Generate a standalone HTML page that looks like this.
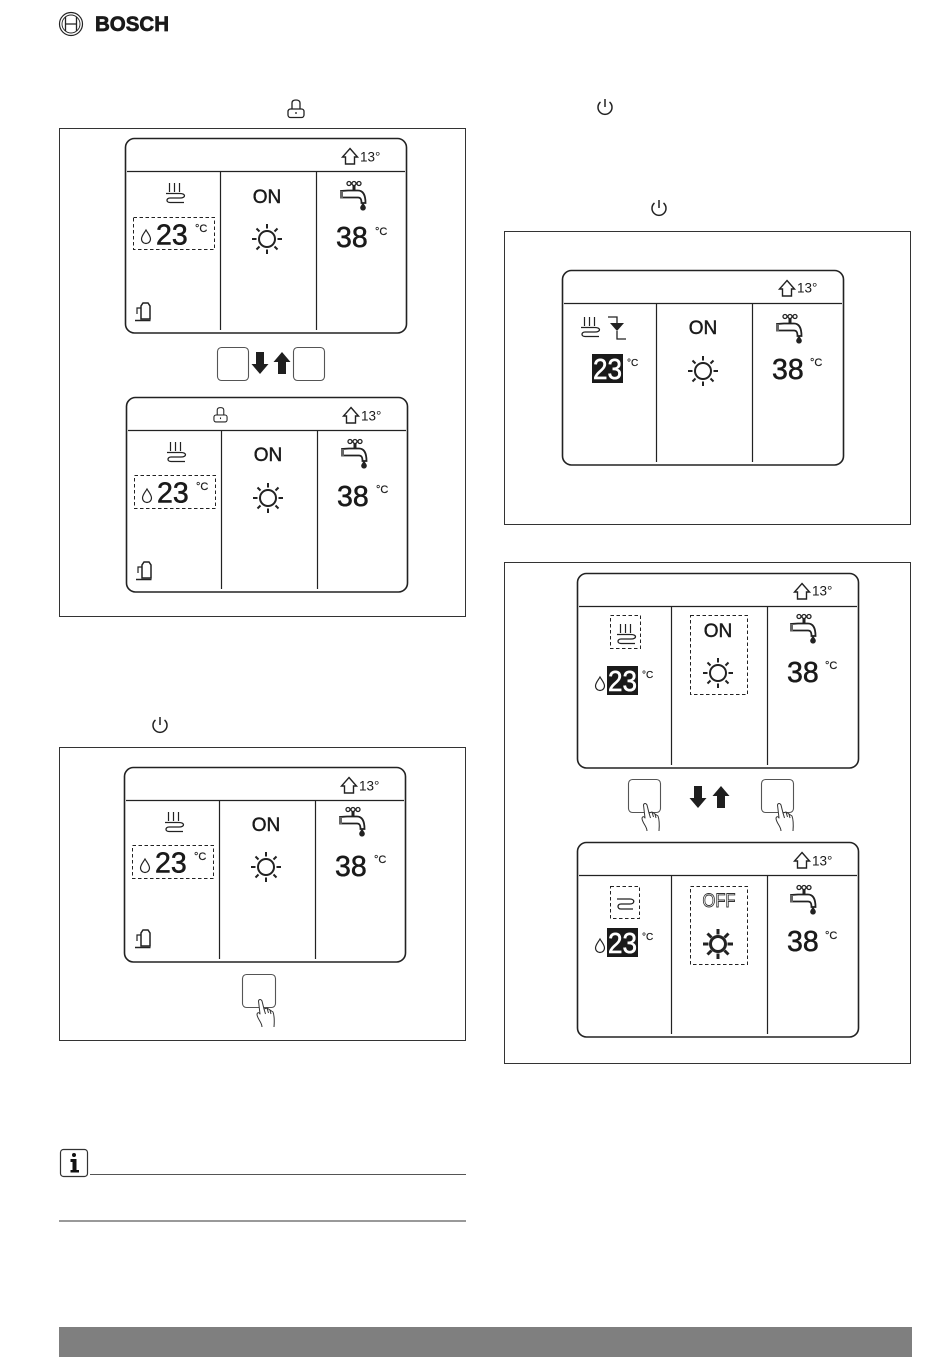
<!DOCTYPE html>
<html><head><meta charset="utf-8"><style>
html,body{margin:0;padding:0;background:#fff}
svg{display:block}
text{font-family:"Liberation Sans",sans-serif;fill:#1a1a1a}
.n{font-size:28.500px;stroke:#1a1a1a;stroke-width:.55}
.c{font-size:11px;stroke:#1a1a1a;stroke-width:.2}
.t{font-size:13.500px}
.on{font-size:19px;stroke:#1a1a1a;stroke-width:.45}
.f{fill:none;stroke:#222;stroke-width:1.6}
.d{fill:none;stroke:#222;stroke-width:1;stroke-dasharray:3.5 2.5}
.i{fill:none;stroke:#222;stroke-width:1.3}
.b{fill:none;stroke:#555;stroke-width:1.1}
</style></head><body>
<svg width="950" height="1367" viewBox="0 0 950 1367" xmlns="http://www.w3.org/2000/svg">
<defs>
<g id="shell">
<rect x="0.500" y="0.500" width="281" height="194.500" rx="9" class="f"/>
<path d="M2 33.500H280" fill="none" stroke="#222" stroke-width="1.200"/>
<path d="M225 10.500L232.500 19H229.500V26H220.500V19H217.500Z" fill="none" stroke="#222" stroke-width="1.400"/>
</g>
<g id="frame"><use href="#shell"/><path d="M95.500 33.500V192M191.500 33.500V192" fill="none" stroke="#222" stroke-width="1.200"/></g>
<g id="frame2"><use href="#shell"/><path d="M94.500 33.500V192M190.500 33.500V192" fill="none" stroke="#222" stroke-width="1.200"/></g>
<g id="heat" class="i">
<path d="M3.500 2V11M8.500 2V11M13.500 2V11" stroke-width="1.200"/>
<path d="M0 12.500H14C20 12.500 20 17 14 17H4C0 17 0 21.500 4 21.500H18"/>
</g>
<g id="wave" class="i"><path d="M0 1H13C18 1 18 6 13 6H4C0 6 0 11 4 11H16"/></g>
<g id="sun" stroke="#222" stroke-width="2" fill="none">
<circle r="8"/>
<path d="M0 -15V-10.500M0 15V10.500M-15 0H-10.500M15 0H10.500M-10.500 -10.500L-7.500 -7.500M10.500 10.500L7.500 7.500M-10.500 10.500L-7.500 7.500M10.500 -10.500L7.500 -7.500"/>
</g>
<g id="sunb" stroke="#222" stroke-width="3" fill="none">
<circle r="7.500"/>
<path d="M0 -15V-9.500M0 15V9.500M-15 0H-9.500M15 0H9.500M-10.500 -10.500L-6.500 -6.500M10.500 10.500L6.500 6.500M-10.500 10.500L-6.500 6.500M10.500 -10.500L6.500 -6.500"/>
</g>
<g id="tap">
<circle cx="9" cy="2.500" r="2" fill="none" stroke="#222" stroke-width="1.300"/>
<circle cx="14" cy="2.500" r="2" fill="none" stroke="#222" stroke-width="1.300"/>
<circle cx="19" cy="2.500" r="2" fill="none" stroke="#222" stroke-width="1.300"/>
<path d="M14 4V9" stroke="#222" stroke-width="3" fill="none"/>
<path d="M1 10V16.500H18C20.500 16.500 21.500 18 21.500 22H25.500C25.500 14 23 9.500 18 9.500H8L1 10Z" fill="#fff" stroke="#222" stroke-width="1.800"/>
<rect x="0" y="10" width="3" height="7" fill="#666"/>
<path d="M23 21.500L20.500 25.500A2.800 2.800 0 1 0 25.500 25.500Z" fill="#222"/>
</g>
<path id="drop" d="M5 0C3 3.500 0.500 6 0.500 9A4.500 4.500 0 0 0 9.500 9C9.500 6 7 3.500 5 0Z" fill="none" stroke="#222" stroke-width="1.200"/>
<g id="comp" class="i">
<path d="M6 18V5L8 2H13L15 5V18Z" stroke-width="1.500"/><path d="M0 19.500H15.500" stroke-width="1.500"/><path d="M6 7H2V13" stroke-width="1.200"/>
</g>
<path id="power" d="M-4.500 -5A7 7 0 1 0 4.500 -5M0 -8V0" fill="none" stroke="#222" stroke-width="1.500"/>
<g id="lock" class="i" stroke-width="1.200">
<path d="M-4 0V-6C-4 -8 -2.500 -9 0 -9S4 -8 4 -6V0"/>
<rect x="-8" y="0" width="16" height="8.500" rx="2.500"/><path d="M0 3V5"/>
</g>
<g id="hand" fill="#fff" stroke="#333" stroke-width="1">
<path d="M6 28C6 23 1 20 1 15C2 13 3 13.500 4 15L2.500 2C3 0 5 0 6 2L8 10L11 9L14 11L17 13C18.500 17 18.500 22 18 28" stroke-linejoin="round"/>
<path d="M8 10L9.500 15M11 9L12.500 14M14 11L15 15" fill="none"/>
</g>
<path id="adown" d="M4 0H12V12H16.500L8 22L-0.500 12H4Z" fill="#1f1f1f"/>
<path id="aup" d="M4 22H12V10H16.500L8 0L-0.500 10H4Z" fill="#1f1f1f"/>
</defs>

<!-- logo -->
<circle cx="71" cy="24" r="11.500" fill="none" stroke="#222" stroke-width="1.200"/>
<circle cx="71" cy="24" r="9" fill="none" stroke="#222" stroke-width=".9"/>
<path d="M65.500 17V31M76.500 17V31M65.500 24H76.500" fill="none" stroke="#222" stroke-width="1.300"/>
<text x="95" y="31" font-size="21" font-weight="700" textLength="74" lengthAdjust="spacingAndGlyphs" stroke="#1a1a1a" stroke-width=".7">BOSCH</text>

<use href="#lock" x="296" y="109"/>
<use href="#power" x="605" y="107"/>
<use href="#power" x="160" y="725"/>
<use href="#power" x="659" y="208"/>

<!-- outer frames -->
<g fill="none" stroke="#333" stroke-width="1">
<rect x="59.500" y="128.500" width="406" height="488"/>
<rect x="59.500" y="747.500" width="406" height="293"/>
<rect x="504.500" y="231.500" width="406" height="293"/>
<rect x="504.500" y="562.500" width="406" height="501"/>
</g>

<!-- P1 -->
<g transform="translate(125,138)">
<use href="#frame"/><text x="235" y="23.500" class="t">13°</text>
<use href="#heat" x="41" y="43"/>
<rect x="8.500" y="79.500" width="81" height="32" class="d"/>
<use href="#drop" x="16" y="92"/>
<text x="31" y="106.500" class="n">23</text>
<text x="70" y="94" class="c">°C</text>
<text x="142" y="65" class="on" text-anchor="middle">ON</text>
<use href="#sun" x="142" y="101"/>
<use href="#tap" x="215" y="43"/>
<text x="211" y="109" class="n">38</text>
<text x="250" y="97" class="c">°C</text>
<use href="#comp" x="10" y="163"/>
</g>

<!-- arrows and buttons -->
<rect x="217.500" y="347.500" width="31" height="33" rx="4" class="b"/>
<rect x="293.500" y="347.500" width="31" height="33" rx="4" class="b"/>
<use href="#adown" x="252" y="352"/>
<use href="#aup" x="274" y="352"/>

<!-- P2 -->
<g transform="translate(126,397)">
<use href="#frame"/><text x="235" y="23.500" class="t">13°</text>
<g transform="translate(94.500,18) scale(.82)"><use href="#lock"/></g>
<use href="#heat" x="41" y="43"/>
<rect x="8.500" y="78.500" width="81" height="33" class="d"/>
<use href="#drop" x="16" y="92"/>
<text x="31" y="105.500" class="n">23</text>
<text x="70" y="93" class="c">°C</text>
<text x="142" y="64" class="on" text-anchor="middle">ON</text>
<use href="#sun" x="142" y="101"/>
<use href="#tap" x="215" y="42"/>
<text x="211" y="109" class="n">38</text>
<text x="250" y="96" class="c">°C</text>
<use href="#comp" x="10" y="163"/>
</g>

<!-- P3 -->
<g transform="translate(124,767)">
<use href="#frame"/><text x="235" y="23.500" class="t">13°</text>
<use href="#heat" x="41" y="43"/>
<rect x="8.500" y="78.500" width="81" height="33" class="d"/>
<use href="#drop" x="16" y="92"/>
<text x="31" y="105.500" class="n">23</text>
<text x="70" y="93" class="c">°C</text>
<text x="142" y="64" class="on" text-anchor="middle">ON</text>
<use href="#sun" x="142" y="100"/>
<use href="#tap" x="215" y="40"/>
<text x="211" y="109" class="n">38</text>
<text x="250" y="96" class="c">°C</text>
<use href="#comp" x="11" y="161"/>
</g>
<rect x="242.500" y="974.500" width="33" height="33" rx="4" class="b"/>
<use href="#hand" x="256" y="999"/>

<!-- P4 -->
<g transform="translate(562,270)">
<use href="#frame2"/><text x="235" y="22.500" class="t">13°</text>
<use href="#heat" x="19" y="45"/>
<path d="M46 47H55V53M55 61V69H64" fill="none" stroke="#222" stroke-width="1.300"/>
<path d="M48 53H62L55 61Z" fill="#222"/>
<rect x="30" y="84" width="31" height="29" fill="#1a1a1a"/>
<text x="31" y="109" class="n" textLength="29" lengthAdjust="spacingAndGlyphs" style="fill:#fff;stroke:#fff">23</text>
<text x="65" y="96" class="c" style="font-size:10px">°C</text>
<text x="141" y="64" class="on" text-anchor="middle">ON</text>
<use href="#sun" x="141" y="101"/>
<use href="#tap" x="214" y="44"/>
<text x="210" y="109" class="n">38</text>
<text x="248" y="96" class="c">°C</text>
</g>

<!-- P5 -->
<g transform="translate(577,573)">
<use href="#frame2"/><text x="235" y="22.500" class="t">13°</text>
<rect x="33.500" y="42.500" width="30" height="33" class="d"/>
<use href="#heat" x="40" y="49"/>
<rect x="113.500" y="42.500" width="57" height="79" class="d"/>
<text x="141" y="64" class="on" text-anchor="middle">ON</text>
<use href="#sun" x="141" y="100"/>
<use href="#drop" x="18" y="104"/>
<rect x="30" y="93" width="31" height="29" fill="#1a1a1a"/>
<text x="31" y="118" class="n" textLength="29" lengthAdjust="spacingAndGlyphs" style="fill:#fff;stroke:#fff">23</text>
<text x="65" y="105" class="c" style="font-size:10px">°C</text>
<use href="#tap" x="213" y="41"/>
<text x="210" y="109" class="n">38</text>
<text x="248" y="96" class="c">°C</text>
</g>

<rect x="628.500" y="779.500" width="32" height="33" rx="4" class="b"/>
<use href="#hand" x="641" y="803"/>
<rect x="761.500" y="779.500" width="32" height="33" rx="4" class="b"/>
<use href="#hand" x="775" y="803"/>
<use href="#adown" x="690" y="786"/>
<use href="#aup" x="713" y="786"/>

<!-- P6 -->
<g transform="translate(577,842)">
<use href="#frame2"/><text x="235" y="23.500" class="t">13°</text>
<rect x="33.500" y="44.500" width="29" height="32" class="d"/>
<use href="#wave" x="40" y="56"/>
<rect x="113.500" y="44.500" width="57" height="78" class="d"/>
<text x="142" y="65" class="on" text-anchor="middle" textLength="33" lengthAdjust="spacingAndGlyphs" style="fill:#fff;stroke:#333;stroke-width:.9">OFF</text>
<use href="#sunb" x="141" y="102"/>
<use href="#drop" x="18" y="97"/>
<rect x="30" y="86" width="31" height="29" fill="#1a1a1a"/>
<text x="31" y="111" class="n" textLength="29" lengthAdjust="spacingAndGlyphs" style="fill:#fff;stroke:#fff">23</text>
<text x="65" y="98" class="c" style="font-size:10px">°C</text>
<use href="#tap" x="213" y="43"/>
<text x="210" y="109" class="n">38</text>
<text x="248" y="97" class="c">°C</text>
</g>

<!-- info -->
<rect x="60.500" y="1149.500" width="27" height="27" rx="3" fill="none" stroke="#333" stroke-width="1.200"/>
<circle cx="74" cy="1155" r="2" fill="#111"/>
<path d="M70.500 1159H76.500V1170H79V1172.500H70.500V1170H72.500V1162H70.500Z" fill="#111"/>
<path d="M90 1174.500H466" stroke="#555" stroke-width="1"/>
<path d="M59 1221H466" stroke="#999" stroke-width="2"/>

<!-- footer -->
<rect x="59" y="1327" width="853" height="30" fill="#7f7f7f"/>
</svg>
</body></html>
